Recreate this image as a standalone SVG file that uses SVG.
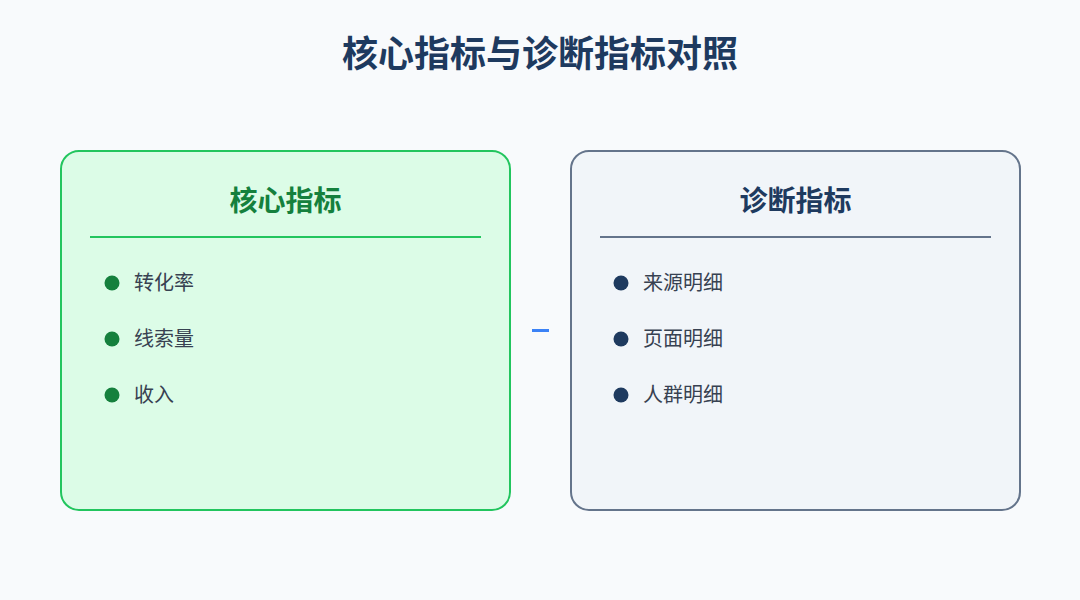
<svg xmlns="http://www.w3.org/2000/svg" width="1080" height="600" viewBox="0 0 1080 600">
<style>
.t{font-family:"Noto Sans CJK SC","Noto Sans",sans-serif}
.title{font-size:36px;font-weight:700;fill:#1e3a5f}
.h{font-size:28px;font-weight:700}
.item{font-size:20px;fill:#374151}
</style>
<rect width="1080" height="600" fill="#f8fafc"/>
<text class="t title" x="540" y="67" text-anchor="middle">核心指标与诊断指标对照</text>
<g id="core">
<rect x="61" y="151" width="449" height="359" rx="18" fill="#dcfce7" stroke="#22c55e" stroke-width="2"/>
<text class="t h" x="285.5" y="211" text-anchor="middle" fill="#15803d">核心指标</text>
<line x1="90" y1="237" x2="481" y2="237" stroke="#22c55e" stroke-width="2"/>
<circle cx="112" cy="283" r="7.5" fill="#15803d"/>
<text class="t item" x="134" y="290">转化率</text>
<circle cx="112" cy="339" r="7.5" fill="#15803d"/>
<text class="t item" x="134" y="346">线索量</text>
<circle cx="112" cy="395" r="7.5" fill="#15803d"/>
<text class="t item" x="134" y="402">收入</text>
</g>
<g id="diag">
<rect x="571" y="151" width="449" height="359" rx="18" fill="#f1f5f9" stroke="#64748b" stroke-width="2"/>
<text class="t h" x="795.5" y="211" text-anchor="middle" fill="#1e3a5f">诊断指标</text>
<line x1="600" y1="237" x2="991" y2="237" stroke="#64748b" stroke-width="2"/>
<circle cx="621" cy="283" r="7.5" fill="#1e3a5f"/>
<text class="t item" x="643" y="290">来源明细</text>
<circle cx="621" cy="339" r="7.5" fill="#1e3a5f"/>
<text class="t item" x="643" y="346">页面明细</text>
<circle cx="621" cy="395" r="7.5" fill="#1e3a5f"/>
<text class="t item" x="643" y="402">人群明细</text>
</g>
<g id="connectors">
<line x1="532" y1="330.5" x2="549" y2="330.5" stroke="#3b82f6" stroke-width="3"/>
</g>
</svg>
